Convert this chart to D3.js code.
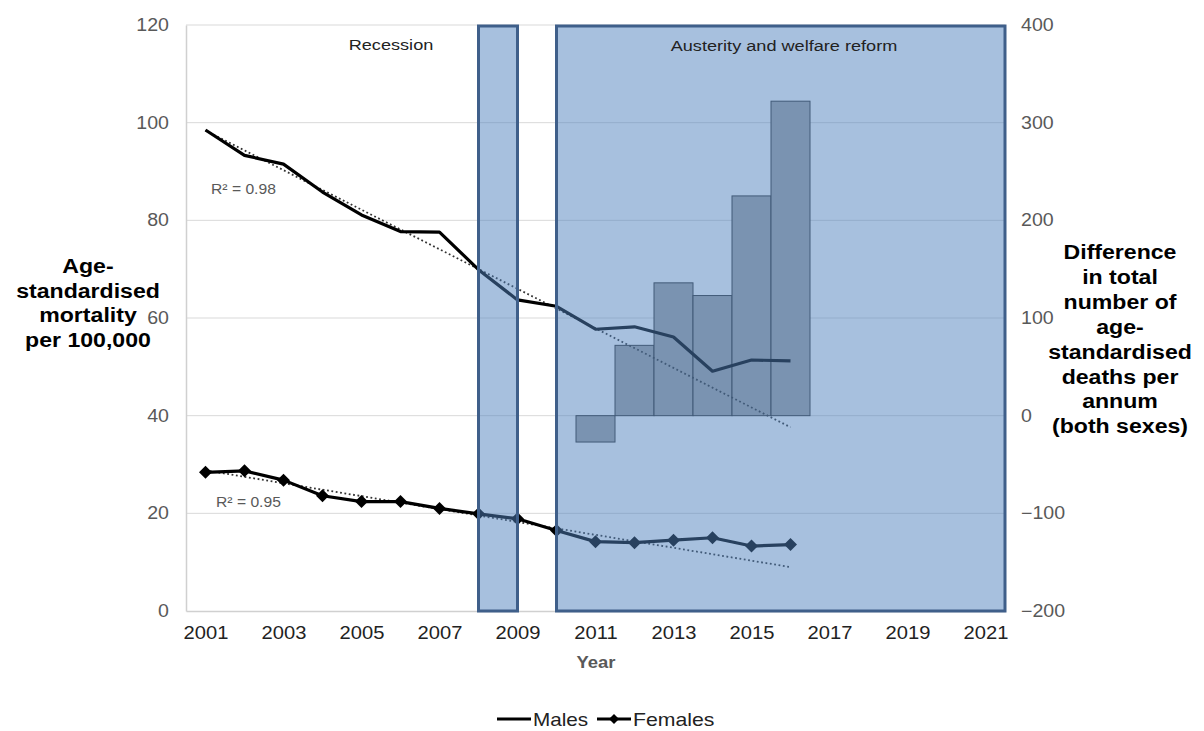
<!DOCTYPE html>
<html><head><meta charset="utf-8">
<script src="https://cdn.jsdelivr.net/npm/d3@7"></script>
<style>body{margin:0;background:#fff}svg{display:block;font-family:Arial,"Liberation Sans",sans-serif}</style>
</head><body><svg id="c" width="1204" height="731"></svg>
<script>
const years = [2001,2002,2003,2004,2005,2006,2007,2008,2009,2010,2011,2012,2013,2014,2015,2016];
const males = [98.5,93.3,91.5,85.8,81.1,77.7,77.6,69.9,63.7,62.4,57.7,58.2,56.1,49.1,51.4,51.2];
const females = [28.4,28.7,26.8,23.6,22.4,22.4,21.0,19.9,18.9,16.5,14.2,14.0,14.5,15.0,13.3,13.6];
const barYears = [2011,2012,2013,2014,2015,2016];
const barValues = [-27,72,136,123,225,322];
const xTicks = [2001,2003,2005,2007,2009,2011,2013,2015,2017,2019,2021];
const leftTicks = [0,20,40,60,80,100,120];
const rightTicks = [-200,-100,0,100,200,300,400];
const periodLabels = ["Recession","Austerity and welfare reform"];
const periodStarts = [2008,2010];
const periodEnds = [2009,2021.5];
const trendFitEnd = 2010;
const r2Labels = ["R\u00b2 = 0.98","R\u00b2 = 0.95"];

const SX = 1.12; // horizontal text stretch
const svg = d3.select("#c");
const L=186, R=1005, T=25, B=611;
const x = d3.scaleLinear().domain([2000.5,2021.5]).range([L,R]);
const yL = d3.scaleLinear().domain([0,120]).range([B,T]);
const yR = d3.scaleLinear().domain([-200,400]).range([B,T]);
const step = x(2002)-x(2001);

function stretchTicks(g){
  g.selectAll("text").each(function(){
    const t=d3.select(this); const tx=+t.attr("x")||0; const ty=+t.attr("y")||0;
    t.attr("x",0).attr("y",0).attr("transform",`translate(${tx},${ty}) scale(${SX},1)`);
  });
}
function label(parent,tx,ty,str,opts){
  const t=parent.append("text").attr("transform",`translate(${tx},${ty}) scale(${opts.sx||SX},1)`)
    .attr("text-anchor",opts.anchor||"start").attr("font-size",opts.size).attr("fill",opts.fill||"#000")
    .attr("font-weight",opts.weight||"normal").text(str);
  return t;
}

// gridlines
svg.append("g").selectAll("line").data(leftTicks.filter(d=>d>0)).join("line")
  .attr("x1",L).attr("x2",R).attr("y1",d=>yL(d)).attr("y2",d=>yL(d))
  .attr("stroke","#d9d9d9").attr("stroke-width",1);

// axes
const gl = svg.append("g").attr("transform",`translate(${L},0)`)
  .call(d3.axisLeft(yL).tickValues(leftTicks).tickSize(0).tickPadding(17));
gl.select(".domain").attr("stroke","#d0d0d0").attr("stroke-width",1.5);
gl.selectAll("text").attr("font-size",17.5).attr("fill","#595959").attr("font-family","Arial, Liberation Sans");
stretchTicks(gl);

const gr = svg.append("g").attr("transform",`translate(${R},0)`)
  .call(d3.axisRight(yR).tickValues(rightTicks).tickSize(0).tickPadding(16).tickFormat(d3.format("d")));
gr.select(".domain").remove();
gr.selectAll("text").attr("font-size",17.5).attr("fill","#595959").attr("font-family","Arial, Liberation Sans");
stretchTicks(gr);

const gb = svg.append("g").attr("transform",`translate(0,${B})`)
  .call(d3.axisBottom(x).tickValues(xTicks).tickSize(0).tickPadding(15).tickFormat(d3.format("d")));
gb.select(".domain").attr("stroke","#d0d0d0").attr("stroke-width",1.5);
gb.selectAll("text").attr("font-size",18).attr("fill","#222").attr("font-family","Arial, Liberation Sans");
stretchTicks(gb);

// bars
svg.append("g").selectAll("rect").data(barYears.map((y,i)=>({y,v:barValues[i]}))).join("rect")
  .attr("x",d=>x(d.y)-step/2).attr("width",step)
  .attr("y",d=>Math.min(yR(d.v),yR(0))).attr("height",d=>Math.abs(yR(d.v)-yR(0)))
  .attr("fill","#a5a5a5").attr("stroke","#333").attr("stroke-width",1);

// trend lines: least squares on pre-austerity years, extrapolated to last year
function fit(xs,ys){
  const idx=xs.map((v,i)=>i).filter(i=>xs[i]<=trendFitEnd);
  const fx=idx.map(i=>xs[i]), fy=idx.map(i=>ys[i]);
  const mx=d3.mean(fx),my=d3.mean(fy);
  let sxy=0,sxx=0;fx.forEach((v,i)=>{sxy+=(v-mx)*(fy[i]-my);sxx+=(v-mx)*(v-mx);});
  const b=sxy/sxx,a=my-b*mx;const x0=xs[0],x1=xs[xs.length-1];
  return [[x0,a+b*x0],[x1,a+b*x1]];}
[males,females].forEach(s=>{
  const p=fit(years,s);
  svg.append("line").attr("x1",x(p[0][0])).attr("y1",yL(p[0][1])).attr("x2",x(p[1][0])).attr("y2",yL(p[1][1]))
    .attr("stroke","#333").attr("stroke-width",1.8).attr("stroke-dasharray","1.8,2.6");
});

const line = d3.line().x((d,i)=>x(years[i])).y(d=>yL(d));
svg.append("path").datum(males).attr("d",line).attr("fill","none").attr("stroke","#000").attr("stroke-width",3.2).attr("stroke-linejoin","round");
svg.append("path").datum(females).attr("d",line).attr("fill","none").attr("stroke","#000").attr("stroke-width",3.2).attr("stroke-linejoin","round");
svg.append("g").selectAll("path").data(females).join("path")
  .attr("transform",(d,i)=>`translate(${x(years[i])},${yL(d)})`)
  .attr("d","M0,-6.5L6.5,0L0,6.5L-6.5,0Z").attr("fill","#000");

// R2 labels
label(svg,211,yL(85.4),r2Labels[0],{size:14,fill:"#595959"});
label(svg,216,yL(21.3),r2Labels[1],{size:14,fill:"#595959"});

// period overlays
periodStarts.forEach((s,i)=>{
  svg.append("rect").attr("x",x(s)).attr("y",T+1).attr("width",x(periodEnds[i])-x(s)).attr("height",B-T-1)
    .attr("fill","rgba(79,129,189,0.5)").attr("stroke","#3f5f8a").attr("stroke-width",3);
});
label(svg,391,50,periodLabels[0],{size:15.5,fill:"#222",anchor:"middle",sx:1.17});
label(svg,784,51,periodLabels[1],{size:15.5,fill:"#222",anchor:"middle",sx:1.17});

// axis titles
const lt=["Age-","standardised","mortality","per 100,000"];
lt.forEach((s,i)=>label(svg,88,273+i*24.7,s,{size:21,weight:"bold",anchor:"middle",sx:1.1}));
const rt=["Difference","in total","number of","age-","standardised","deaths per","annum","(both sexes)"];
rt.forEach((s,i)=>label(svg,1120,259+i*24.9,s,{size:21,weight:"bold",anchor:"middle",sx:1.1}));
label(svg,596,668,"Year",{size:16.5,weight:"bold",fill:"#595959",anchor:"middle"});

// legend
const lg=svg.append("g");
lg.append("line").attr("x1",497).attr("x2",531).attr("y1",719).attr("y2",719).attr("stroke","#000").attr("stroke-width",3);
label(lg,533,725.5,"Males",{size:18,fill:"#222",sx:1.15});
lg.append("line").attr("x1",597).attr("x2",631).attr("y1",719).attr("y2",719).attr("stroke","#000").attr("stroke-width",3);
lg.append("path").attr("transform","translate(614,719)").attr("d","M0,-5L5,0L0,5L-5,0Z").attr("fill","#000");
label(lg,633,725.5,"Females",{size:18,fill:"#222",sx:1.18});
</script></body></html>
